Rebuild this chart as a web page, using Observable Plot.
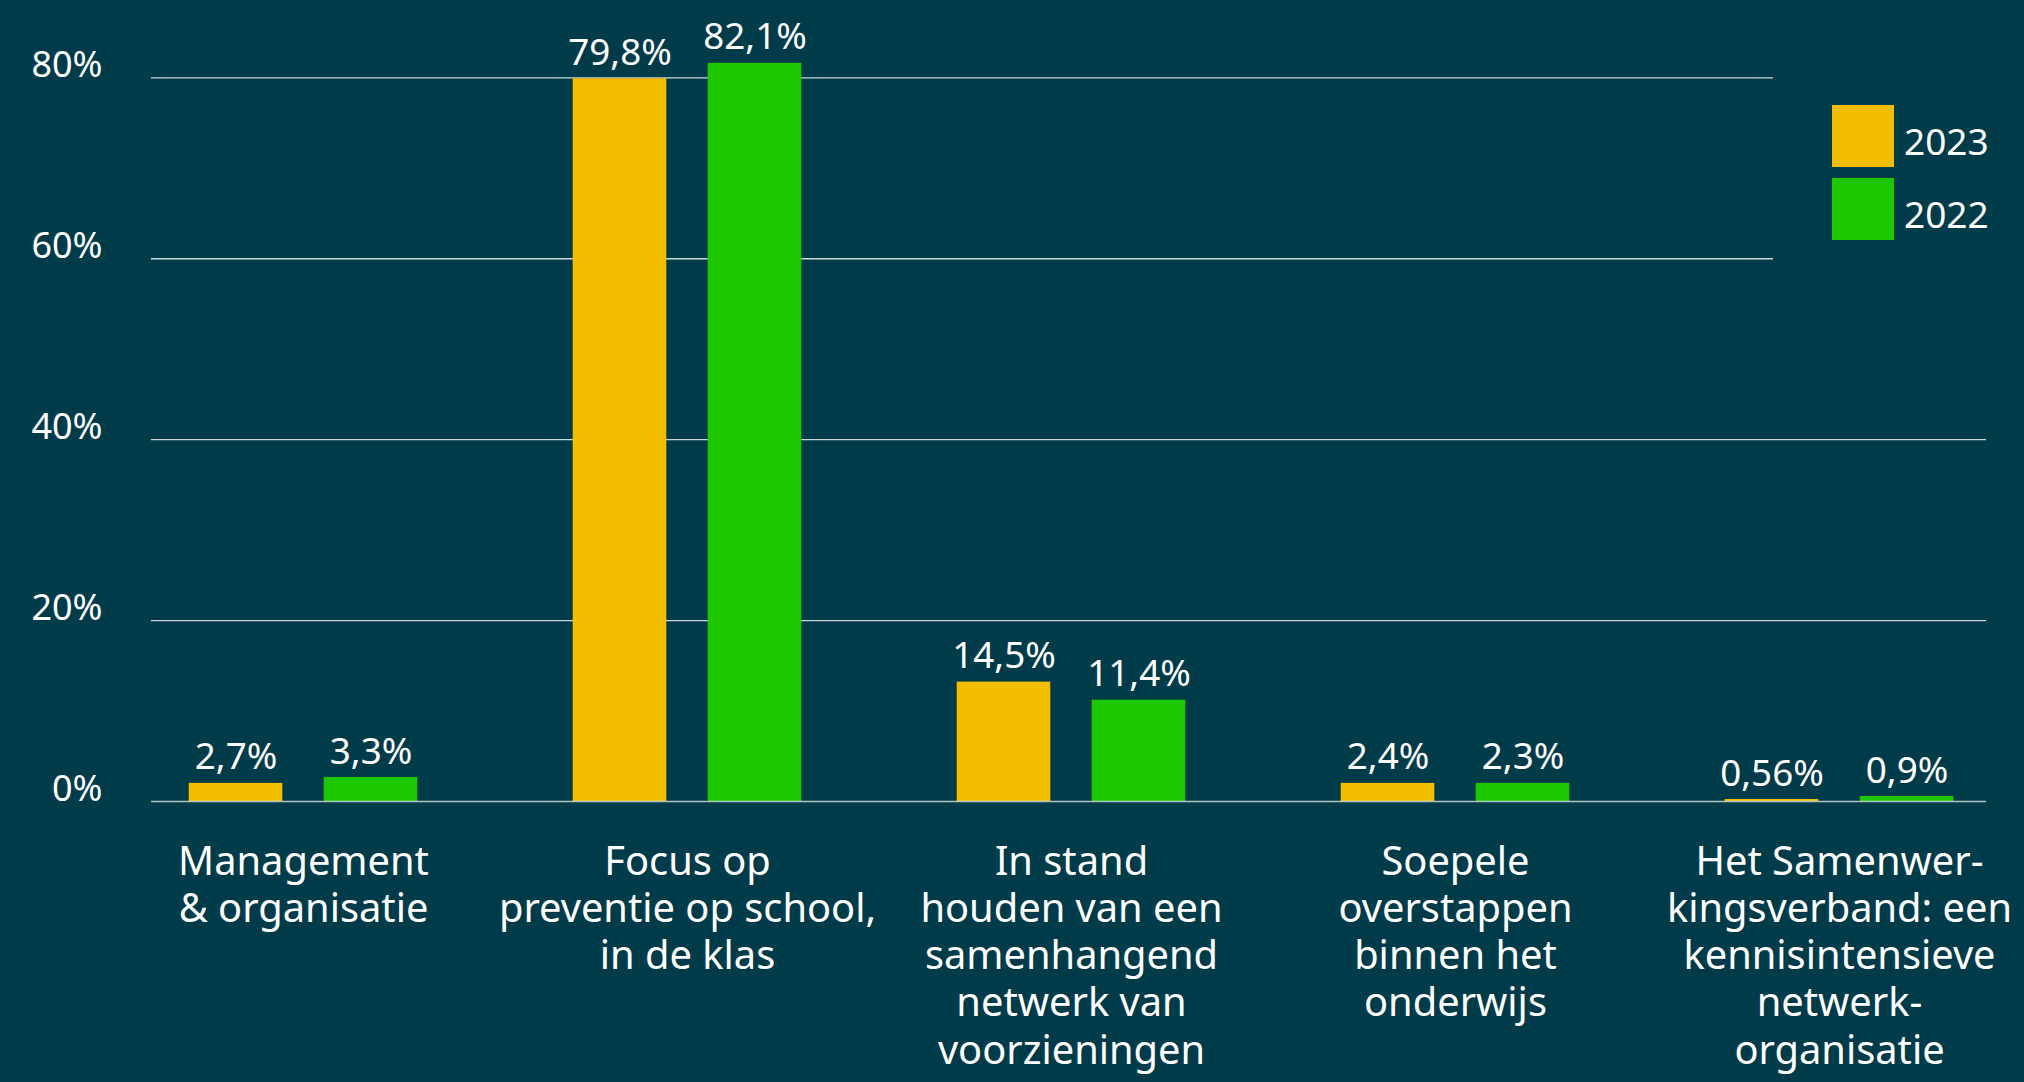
<!DOCTYPE html>
<html>
<head>
<meta charset="utf-8">
<script src="https://cdn.jsdelivr.net/npm/d3@7"></script>
<script src="https://cdn.jsdelivr.net/npm/@observablehq/plot@0.6"></script>
<style>
  html, body { margin: 0; padding: 0; background: #003b4a; }
  #wrap { position: relative; width: 2024px; height: 1082px; overflow: hidden; }
  #legend { position: absolute; left: 1773px; top: 0; width: 251px; height: 300px; background: #003b4a;
            font-family: "Noto Sans", sans-serif; color: #fff; }
  .row { position: absolute; left: 59px; width: 180px; height: 62px; }
  .sw { position: absolute; left: 0; top: 0; width: 62px; height: 62px; }
  .lab { position: absolute; left: 72px; top: 17px; font-size: 37px; line-height: 37px; white-space: nowrap; }
</style>
</head>
<body>
<div id="wrap"><div id="chart"></div><div id="legend"></div></div>
<script>
const categories = [
  "Management & organisatie",
  "Focus op preventie op school, in de klas",
  "In stand houden van een samenhangend netwerk van voorzieningen",
  "Soepele overstappen binnen het onderwijs",
  "Het Samenwerkingsverband: een kennisintensieve netwerk-organisatie"
];
const tickLabels = [
  "Management\n& organisatie",
  "Focus op\npreventie op school,\nin de klas",
  "In stand\nhouden van een\nsamenhangend\nnetwerk van\nvoorzieningen",
  "Soepele\noverstappen\nbinnen het\nonderwijs",
  "Het Samenwer-\nkingsverband: een\nkennisintensieve\nnetwerk-\norganisatie"
];
const years = ["2023", "2022"];
const colors = ["#f4be00", "#1ec800"];
// bar heights as drawn in the picture (percent)
const values2023 = [2.0, 79.9, 13.2, 2.0, 0.22];
const values2022 = [2.65, 81.6, 11.2, 2.0, 0.55];
// value labels as printed
const labels2023 = ["2,7%", "79,8%", "14,5%", "2,4%", "0,56%"];
const labels2022 = ["3,3%", "82,1%", "11,4%", "2,3%", "0,9%"];
const yTicks = [0, 20, 40, 60, 80];

const d2023 = categories.map((c, i) => ({cat: c, year: years[0], value: values2023[i], label: labels2023[i]}));
const d2022 = categories.map((c, i) => ({cat: c, year: years[1], value: values2022[i], label: labels2022[i]}));
const tickMap = new Map(categories.map((c, i) => [c, tickLabels[i]]));

const chart = Plot.plot({
  width: 2024,
  height: 1082,
  marginLeft: 151,
  marginRight: 38,
  marginTop: 77.3,
  marginBottom: 281,
  style: {fontFamily: "Noto Sans, sans-serif", background: "#003b4a", color: "#fff", overflow: "visible"},
  x: {domain: categories, range: [110, 2032], padding: 0},
  y: {domain: [0, 80]},
  color: {domain: years, range: colors},
  marks: [
    Plot.ruleY(yTicks.filter(d => d > 0), {stroke: "#fff", strokeOpacity: 0.8, strokeWidth: 1.3}),
    Plot.barY(d2023, {x: "cat", y: "value", fill: "year", insetLeft: 77.7, insetRight: 212.7}),
    Plot.barY(d2022, {x: "cat", y: "value", fill: "year", insetLeft: 212.7, insetRight: 77.7}),
    Plot.ruleY([0], {stroke: "#fff", strokeOpacity: 0.7, strokeWidth: 1.6}),
    Plot.text(d2023, {x: "cat", y: "value", text: "label", dx: -67.5, dy: -14, lineAnchor: "bottom", fill: "#fff", fontSize: 36.8}),
    Plot.text(d2022, {x: "cat", y: "value", text: "label", dx: 67.5, dy: -14, lineAnchor: "bottom", fill: "#fff", fontSize: 36.8}),
    Plot.axisY({ticks: yTicks, tickFormat: d => d + "%", tickSize: 0, tickPadding: 49, fontSize: 36, dy: -12, fill: "#fff", label: null}),
    Plot.axisX({tickFormat: d => tickMap.get(d), tickSize: 0, tickPadding: 40, fontSize: 39.8, lineHeight: 1.185, fill: "#fff", label: null})
  ]
});
document.getElementById("chart").appendChild(chart);

const legend = document.getElementById("legend");
years.forEach((y, i) => {
  const row = document.createElement("div");
  row.className = "row";
  row.style.top = (105 + i * 73) + "px";
  const sw = document.createElement("div");
  sw.className = "sw";
  sw.style.background = colors[i];
  const lab = document.createElement("span");
  lab.className = "lab";
  lab.textContent = y;
  row.appendChild(sw);
  row.appendChild(lab);
  legend.appendChild(row);
});
</script>
</body>
</html>
